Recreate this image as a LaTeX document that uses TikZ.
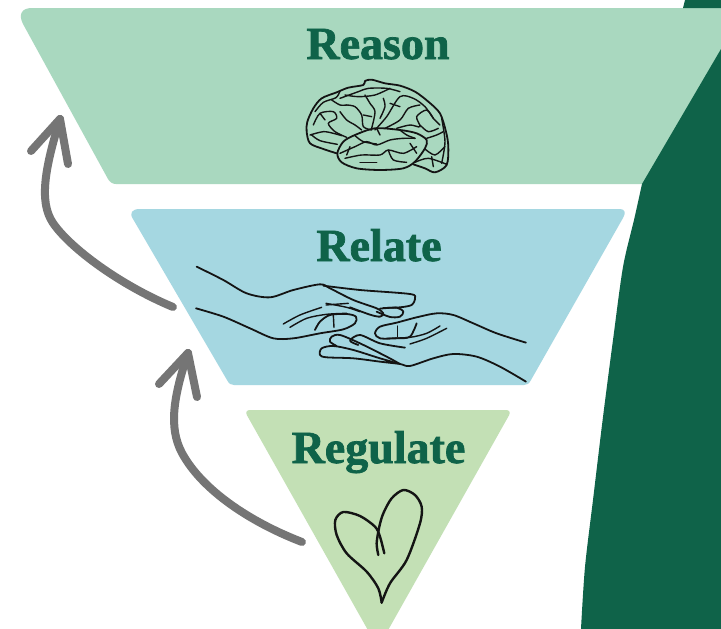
\documentclass[tikz,border=0pt]{standalone}
\usepackage{fontspec}
\setmainfont{Liberation Serif}
\newfontfamily\titlefont[BoldFeatures={FakeBold=1.6}]{Liberation Serif}
\definecolor{deep}{HTML}{0F6349}
\definecolor{reasonfill}{HTML}{A9D8BF}
\definecolor{relatefill}{HTML}{A5D7E1}
\definecolor{regfill}{HTML}{C3E0B5}
\definecolor{arrowgray}{HTML}{757575}
\definecolor{ink}{HTML}{141414}
\tikzset{
  tier/.style={rounded corners=6pt},
  title/.style={font=\titlefont\fontsize{46}{46}\selectfont\bfseries, text=deep, inner sep=0pt, anchor=base},
  flow/.style={draw=arrowgray, line width=8pt, line cap=round, line join=round},
  sketch/.style={draw=ink, line width=1.8pt, line cap=round, line join=round},
  fine/.style={draw=ink, line width=1.4pt, line cap=round, line join=round},
}
\begin{document}
\begin{tikzpicture}[x=1pt,y=-1pt]
\useasboundingbox (0,0) rectangle (721,629);
\fill[white] (0,0) rectangle (721,629);
% tiers
\fill[reasonfill] (32,8) -- (721,8) -- (721,184) -- (116,184) .. controls (112,184) and (110,182) .. (108,179)
  -- (23,24) .. controls (18,14) and (22,8) .. (32,8) -- cycle;
% dark band
\fill[deep] (685,0) -- (721,0) -- (721,8) -- (683,8) -- cycle;
\fill[deep] plot[smooth] coordinates {(642,184) (634,220) (623,267) (613,340) (603,417) (593,500) (585,567) (581,629)} -- (721,629) -- (721,49) -- cycle;
\fill[relatefill] (140,209) -- (620,209) .. controls (625,209) and (626,213) .. (623,218)
  -- (531,380) .. controls (529,384) and (527,385) .. (524,385)
  -- (234,385) .. controls (231,385) and (229,384) .. (227,380)
  -- (133,219) .. controls (129,213) and (132,209) .. (140,209) -- cycle;
\fill[regfill,tier] (244,410) -- (512,410) -- (378,648) -- cycle;
% titles
\node[title] (reason) at (378,59) {Reason};
\node[title] (relate) at (379,261) {Relate};
\node[title] (regulate) at (378.5,463) {Regulate};
% arrows
\coordinate (a1s) at (173,307);
\coordinate (a1e) at (60,119);
\coordinate (a2s) at (302,542);
\coordinate (a2e) at (188,353);
\draw[flow] (a1s) .. controls (120,285) and (70,248) .. (53,223) .. controls (38,201) and (46,165) .. (a1e);
\draw[flow] (31,151) -- (a1e) -- (68,164);
\draw[flow] (a2s) .. controls (250,522) and (202,490) .. (182,453) .. controls (168,427) and (174,395) .. (a2e);
\draw[flow] (159,384) -- (a2e) -- (197,397);
% brain
\begin{scope}[shift={(300,75)},x=0.3333pt,y=-0.3333pt]
\draw[sketch] plot[smooth] coordinates {(110,235) (70,222) (30,205) (20,170) (22,140) (40,100) (65,70) (110,52) (145,38) (190,30) (195,18) (215,14) (255,25) (300,32) (345,50) (385,80) (420,115) (438,170) (445,215) (440,270) (405,292) (375,280) (340,268)};
\draw[sketch] plot[smooth cycle] coordinates {(165,180) (130,200) (112,235) (125,262) (170,280) (240,285) (310,280) (345,260) (375,220) (380,195) (350,175) (300,165) (225,160)};
\draw[fine] plot[smooth] coordinates {(35,180) (60,197) (112,208)};
\draw[fine] plot[smooth] coordinates {(45,110) (70,82) (108,68) (120,48)};
\draw[fine] plot[smooth] coordinates {(120,70) (175,50) (205,40) (260,40) (300,50)};
\draw[fine] plot[smooth] coordinates {(120,235) (165,215) (200,200) (230,210) (270,195) (310,190) (345,190)};
\draw[fine] plot[smooth] coordinates {(135,250) (185,240) (240,240) (265,225) (310,235) (350,215)};
\draw[fine] plot[smooth] coordinates {(165,182) (190,200) (230,207)};
\draw[fine] plot[smooth] coordinates {(40,150) (60,115) (100,110) (110,130) (85,145) (105,170) (140,187)};
\draw[fine] plot[smooth] coordinates {(30,180) (70,170) (100,175) (125,182)};
\draw[fine] plot[smooth] coordinates {(140,90) (165,95) (185,120) (190,155) (215,165)};
\draw[fine] plot[smooth] coordinates {(195,60) (210,85) (225,110) (215,160)};
\draw[fine] plot[smooth] coordinates {(120,110) (140,135) (165,150) (185,165)};
\draw[fine] plot[smooth] coordinates {(135,60) (175,65) (225,60) (270,40)};
\draw[fine] plot[smooth] coordinates {(225,165) (260,125) (300,65) (340,70) (375,95) (400,130) (420,150)};
\draw[fine] plot[smooth] coordinates {(255,160) (300,135) (325,100) (360,90)};
\draw[fine] plot[smooth] coordinates {(290,160) (330,150) (360,155) (350,125) (380,105) (400,130)};
\draw[fine] plot[smooth] coordinates {(360,150) (385,170) (415,160)};
\draw[fine] plot[smooth] coordinates {(380,190) (410,180) (430,170)};
\draw[fine] plot[smooth] coordinates {(375,222) (405,240) (435,215)};
\draw[fine] plot[smooth] coordinates {(345,262) (385,250) (440,268)};
\draw[fine] plot[smooth] coordinates {(425,130) (435,200) (425,265)};
\draw[fine] plot[smooth] coordinates {(95,75) (120,90) (140,90)};
\draw[fine] (60,115) -- (75,135);
\draw[fine] plot[smooth] coordinates {(250,70) (255,95) (240,130)};
\draw[fine] (270,85) -- (300,95);
\draw[fine] (190,120) -- (215,125);
\draw[fine] (150,215) -- (140,240);
\draw[fine] (230,160) -- (240,180);
\draw[fine] plot[smooth] coordinates {(300,165) (320,180) (345,190)};
\draw[fine] plot[smooth] coordinates {(265,225) (280,255) (320,262)};
\draw[fine] (180,262) -- (230,262);
\draw[fine] (330,205) -- (350,235);
\draw[fine] (395,245) -- (400,275);
\end{scope}
% hands
\begin{scope}[shift={(180,220)},x=0.3333pt,y=-0.3333pt]
\draw[sketch] plot[smooth] coordinates {(50,140) (130,180) (200,220) (270,232) (340,210) (420,193) (450,205) (520,240) (590,265) (610,280) (600,290) (570,284) (510,262)};
\draw[sketch] plot[smooth] coordinates {(430,197) (540,210) (690,222) (705,235) (695,255) (660,262) (610,264)};
\draw[sketch] plot[smooth] coordinates {(600,266) (650,263) (670,275) (660,290) (630,291) (590,275)};
\draw[sketch] plot[smooth] coordinates {(48,265) (130,290) (210,325) (280,355) (340,355) (420,340) (490,328) (525,310) (528,290) (500,282) (450,285) (420,305) (405,330)};
\draw[fine] (460,285) -- (462,322);
\draw[fine] plot[smooth] coordinates {(310,312) (360,285) (425,262)};
\draw[fine] plot[smooth] coordinates {(330,322) (380,295) (440,283) (500,280)};
\draw[fine] plot[smooth] coordinates {(438,250) (500,262) (540,275)};
\draw[fine] (438,255) -- (505,250);
\draw[sketch] plot[smooth] coordinates {(1038,368) (950,340) (880,310) (820,285) (770,280) (710,292) (650,308) (600,320) (585,340) (600,355) (650,355) (690,350) (710,310)};
\draw[fine] (652,318) -- (652,350);
\draw[fine] plot[smooth] coordinates {(780,318) (740,340) (690,352) (620,355)};
\draw[fine] plot[smooth] coordinates {(800,325) (740,355) (690,372)};
\draw[sketch] plot[smooth] coordinates {(1038,485) (960,440) (890,410) (820,402) (760,415) (690,438) (660,432) (600,425) (520,415) (440,412) (420,405) (425,385) (460,378) (520,390) (600,415) (660,432)};
\draw[sketch] plot[smooth] coordinates {(470,378) (450,365) (455,350) (480,345) (540,370) (620,410) (660,432)};
\draw[sketch] plot[smooth] coordinates {(535,375) (510,362) (540,345) (600,370) (675,383)};
\end{scope}
% heart
\begin{scope}[shift={(280,420)},x=0.3333pt,y=-0.3333pt]
\draw[sketch,line width=2.4pt] plot[smooth] coordinates {(313,400) (300,350) (285,320) (240,288) (190,276) (166,300) (170,345) (200,400) (260,455) (295,505) (305,548)};
\draw[sketch,line width=2.4pt] plot[smooth] coordinates {(305,548) (330,490) (380,420) (420,310) (425,260) (405,225) (370,210) (335,235) (310,280) (298,320) (290,370) (295,405)};
\end{scope}
\end{tikzpicture}
\end{document}
